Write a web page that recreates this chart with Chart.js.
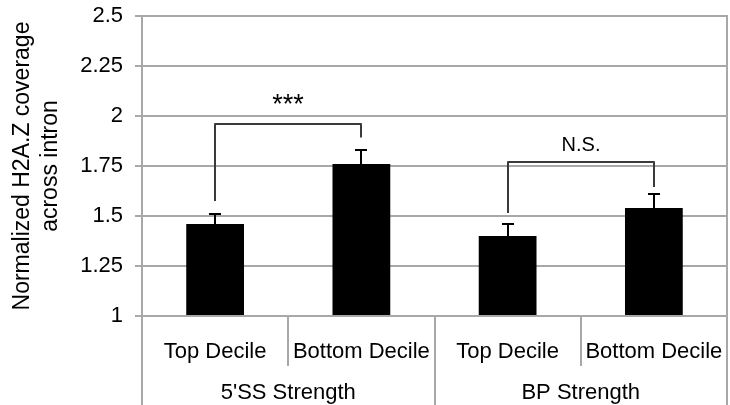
<!DOCTYPE html>
<html>
<head>
<meta charset="utf-8">
<script src="https://cdn.jsdelivr.net/npm/chart.js@4.4.1/dist/chart.umd.min.js"></script>
<style>
  html, body { margin: 0; padding: 0; background: #fff; }
  #wrap { width: 730px; height: 405px; }
</style>
</head>
<body>
<div id="wrap"><canvas id="c" width="730" height="405"></canvas></div>
<script>
// Bar categories (inner level) and their groups (outer level)
const decileLabels = ['Top Decile', 'Bottom Decile', 'Top Decile', 'Bottom Decile'];
const groupLabels = ["5'SS Strength", 'BP Strength'];

// Normalized H2A.Z coverage and its standard error
const coverage = [1.46, 1.76, 1.40, 1.54];
const coverageErr = [0.05, 0.07, 0.06, 0.07];

// Value-axis ticks
const yTicks = [1, 1.25, 1.5, 1.75, 2, 2.25, 2.5];

// Significance comparisons between bar pairs
const compLeft = [0, 2];
const compRight = [1, 3];
const compTop = [1.96, 1.77];
const compLeftEnd = [1.575, 1.515];
const compRightEnd = [1.893, 1.645];
const compText = ['***', 'N.S.'];
const compTextY = [2.05, 1.855];

const FONT = "'Liberation Sans', Arial, Helvetica, sans-serif";
const GRID = '#a8a8a8';

const noPadding = s => {
  s.paddingTop = 0; s.paddingBottom = 0; s.paddingLeft = 0; s.paddingRight = 0;
};

const annotate = {
  id: 'annotate',
  afterDatasetsDraw(chart) {
    const { ctx } = chart;
    const x = chart.scales.x, y = chart.scales.y;
    ctx.save();
    // error bars (upper half only)
    ctx.strokeStyle = '#000';
    ctx.lineWidth = 2;
    coverage.forEach((v, i) => {
      const px = Math.round(x.getPixelForValue(i));
      const y0 = y.getPixelForValue(v);
      const y1 = Math.round(y.getPixelForValue(v + coverageErr[i]));
      ctx.beginPath();
      ctx.moveTo(px, y0);
      ctx.lineTo(px, y1);
      ctx.moveTo(px - 6, y1);
      ctx.lineTo(px + 6, y1);
      ctx.stroke();
    });
    // comparison brackets
    ctx.strokeStyle = '#3a3a3a';
    ctx.lineJoin = 'round';
    ctx.lineWidth = 2;
    compLeft.forEach((li, k) => {
      const xl = Math.round(x.getPixelForValue(li));
      const xr = Math.round(x.getPixelForValue(compRight[k]));
      const yt = Math.round(y.getPixelForValue(compTop[k]));
      ctx.beginPath();
      ctx.moveTo(xl, y.getPixelForValue(compLeftEnd[k]));
      ctx.lineTo(xl, yt);
      ctx.lineTo(xr, yt);
      ctx.lineTo(xr, y.getPixelForValue(compRightEnd[k]));
      ctx.stroke();
      ctx.fillStyle = '#000';
      ctx.textAlign = 'center';
      ctx.textBaseline = 'middle';
      ctx.font = (compText[k] === '***' ? '27px ' : '20px ') + FONT;
      ctx.fillText(compText[k], (xl + xr) / 2, y.getPixelForValue(compTextY[k]));
    });
    ctx.restore();
  },
  afterDraw(chart) {
    // category separators of the two-level axis
    const { ctx, chartArea } = chart;
    const x = chart.scales.x;
    const H = chart.height;
    const edge = i => Math.round((x.getPixelForValue(i) + x.getPixelForValue(i + 1)) / 2);
    ctx.save();
    ctx.strokeStyle = GRID;
    ctx.lineWidth = 2;
    ctx.beginPath();
    ctx.moveTo(chartArea.left, chartArea.bottom);
    ctx.lineTo(chartArea.left, H);
    ctx.moveTo(chartArea.right, chartArea.top - 1);
    ctx.lineTo(chartArea.right, H);
    ctx.moveTo(edge(1), chartArea.bottom);
    ctx.lineTo(edge(1), H);
    [0, 2].forEach(i => {
      ctx.moveTo(edge(i), chartArea.bottom);
      ctx.lineTo(edge(i), chartArea.bottom + 50);
    });
    ctx.stroke();
    ctx.restore();
  }
};

new Chart(document.getElementById('c'), {
  type: 'bar',
  data: {
    labels: decileLabels,
    datasets: [{
      data: coverage,
      base: 1,
      backgroundColor: '#000',
      borderWidth: 0,
      barPercentage: 0.395,
      categoryPercentage: 1
    }]
  },
  options: {
    responsive: false,
    animation: false,
    layout: { padding: { top: 16, right: 3, left: 0, bottom: 0 } },
    plugins: { legend: { display: false }, tooltip: { enabled: false } },
    scales: {
      x: {
        type: 'category',
        position: 'bottom',
        weight: 0,
        offset: true,
        grid: { display: false },
        border: { display: false },
        ticks: {
          color: '#000',
          font: { family: FONT, size: 22 },
          padding: 15,
          maxRotation: 0,
          autoSkip: false
        },
        afterFit(s) { s.height = 50; noPadding(s); }
      },
      x2: {
        type: 'category',
        labels: groupLabels,
        position: 'bottom',
        weight: 1,
        offset: true,
        grid: { display: false },
        border: { display: false },
        ticks: {
          color: '#000',
          font: { family: FONT, size: 22 },
          padding: 6,
          maxRotation: 0,
          autoSkip: false
        },
        afterFit(s) { s.height = 39; noPadding(s); }
      },
      y: {
        min: 1,
        max: 2.5,
        afterBuildTicks(s) { s.ticks = yTicks.map(v => ({ value: v })); },
        grid: { color: GRID, lineWidth: 2, tickLength: 7 },
        border: { color: GRID, width: 2 },
        ticks: {
          color: '#000',
          font: { family: FONT, size: 22 },
          padding: 12,
          callback: v => String(+Number(v).toFixed(2))
        },
        title: {
          display: true,
          text: ['Normalized H2A.Z coverage', 'across intron'],
          color: '#000',
          font: { family: FONT, size: 23, lineHeight: 1.25 },
          padding: { top: 8, bottom: 0 }
        },
        afterFit(s) { s.width = 142; noPadding(s); }
      }
    }
  },
  plugins: [annotate]
});
</script>
</body>
</html>
